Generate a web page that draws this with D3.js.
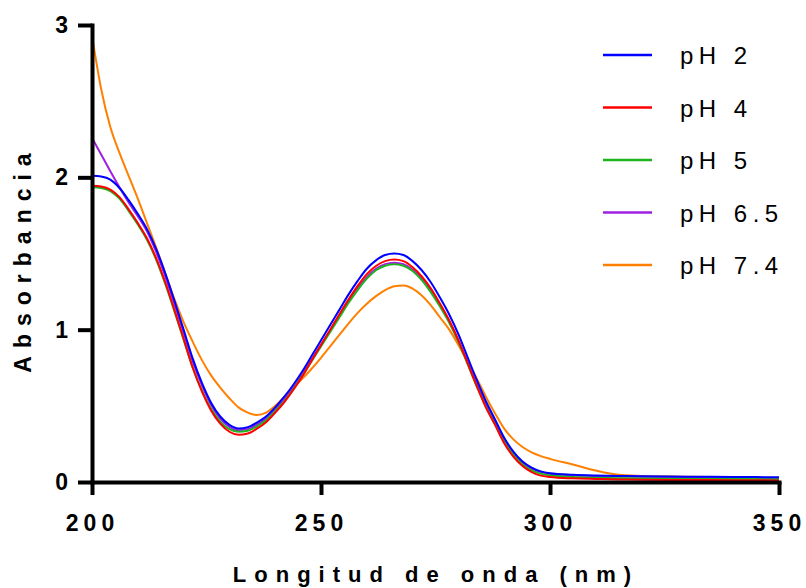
<!DOCTYPE html>
<html>
<head>
<meta charset="utf-8">
<script src="https://cdn.jsdelivr.net/npm/d3@7"></script>
<style>
  body { margin: 0; background: #fff; }
  svg { font-family: "Liberation Sans", Arial, sans-serif; }
</style>
</head>
<body>
<div id="chart"></div>
<script>
// wavelengths (nm): every 2 nm up to 300, then coarser
const wavelengths = [200, 202, 204, 206, 208, 210, 212, 214, 216, 218, 220, 222, 224, 226, 228, 230, 232, 234, 236, 238, 240, 242, 244, 246, 248, 250, 252, 254, 256, 258, 260, 262, 264, 266, 268, 270, 272, 274, 276, 278, 280, 282, 284, 286, 288, 290, 292, 294, 296, 298, 300, 305, 310, 315, 320, 330, 340, 350];

// absorbance per pH
const pH2 = [2.01, 2.005, 1.985, 1.93, 1.85, 1.76, 1.66, 1.53, 1.37, 1.19, 1.0, 0.81, 0.65, 0.52, 0.43, 0.375, 0.352, 0.36, 0.39, 0.43, 0.49, 0.56, 0.64, 0.73, 0.83, 0.93, 1.03, 1.13, 1.23, 1.32, 1.4, 1.455, 1.49, 1.5, 1.49, 1.45, 1.39, 1.31, 1.21, 1.1, 0.97, 0.82, 0.67, 0.53, 0.41, 0.29, 0.2, 0.135, 0.095, 0.07, 0.058, 0.048, 0.043, 0.04, 0.038, 0.035, 0.033, 0.031];
const pH4 = [1.945, 1.94, 1.92, 1.87, 1.79, 1.7, 1.6, 1.47, 1.31, 1.13, 0.94, 0.75, 0.595, 0.47, 0.383, 0.33, 0.31, 0.318, 0.35, 0.393, 0.455, 0.525, 0.607, 0.698, 0.8, 0.9, 1.0, 1.1, 1.197, 1.287, 1.365, 1.418, 1.45, 1.46, 1.45, 1.41, 1.35, 1.27, 1.17, 1.06, 0.93, 0.78, 0.63, 0.49, 0.375, 0.255, 0.167, 0.105, 0.065, 0.042, 0.033, 0.024, 0.02, 0.017, 0.015, 0.013, 0.012, 0.01];
const pH5 = [1.935, 1.93, 1.91, 1.86, 1.78, 1.69, 1.59, 1.46, 1.3, 1.12, 0.935, 0.75, 0.6, 0.48, 0.395, 0.347, 0.33, 0.337, 0.365, 0.405, 0.465, 0.53, 0.61, 0.7, 0.795, 0.89, 0.985, 1.08, 1.175, 1.26, 1.335, 1.39, 1.42, 1.43, 1.42, 1.385, 1.325, 1.245, 1.15, 1.045, 0.92, 0.775, 0.63, 0.495, 0.38, 0.265, 0.178, 0.115, 0.077, 0.055, 0.044, 0.033, 0.028, 0.025, 0.023, 0.021, 0.02, 0.018];
const pH65 = [2.26, 2.15, 2.04, 1.935, 1.835, 1.745, 1.645, 1.51, 1.35, 1.17, 0.98, 0.79, 0.635, 0.505, 0.415, 0.362, 0.34, 0.347, 0.376, 0.416, 0.475, 0.54, 0.62, 0.71, 0.805, 0.9, 0.995, 1.09, 1.185, 1.27, 1.345, 1.4, 1.43, 1.44, 1.43, 1.395, 1.335, 1.255, 1.16, 1.055, 0.93, 0.785, 0.64, 0.505, 0.39, 0.275, 0.188, 0.125, 0.088, 0.065, 0.054, 0.044, 0.039, 0.036, 0.034, 0.031, 0.029, 0.027];
const pH74 = [2.93, 2.58, 2.33, 2.16, 2.01, 1.86, 1.7, 1.54, 1.37, 1.2, 1.05, 0.92, 0.8, 0.7, 0.62, 0.55, 0.49, 0.455, 0.44, 0.455, 0.5, 0.56, 0.62, 0.68, 0.745, 0.815, 0.89, 0.965, 1.04, 1.11, 1.17, 1.22, 1.26, 1.285, 1.29, 1.27, 1.225, 1.16, 1.08, 1.0, 0.9, 0.79, 0.68, 0.56, 0.45, 0.35, 0.28, 0.23, 0.195, 0.17, 0.152, 0.115, 0.075, 0.047, 0.04, 0.035, 0.03, 0.025];

const seriesNames = ["pH 2", "pH 4", "pH 5", "pH 6.5", "pH 7.4"];
const seriesColors = ["#0000ff", "#ff0000", "#1db41d", "#a020e0", "#ff8000"];
const seriesValues = [pH2, pH4, pH5, pH65, pH74];

const xTicks = [200, 250, 300, 350];
const yTicks = [0, 1, 2, 3];

let svg = d3
  .select("#chart")
  .append("svg")
  .attr("width", 806)
  .attr("height", 588);

// scales
let xScale = d3.scaleLinear().domain([200, 350]).range([92, 779]),
  yScale = d3.scaleLinear().domain([0, 3]).range([482, 25]);

let line = d3
  .line()
  .curve(d3.curveMonotoneX)
  .x(function (d) {
    return xScale(d[0]);
  })
  .y(function (d) {
    return yScale(d[1]);
  });

// curves, drawn so blue ends on top
let drawOrder = [4, 3, 2, 1, 0];
drawOrder.forEach(function (i) {
  let pts = wavelengths.map(function (w, j) {
    return [w, seriesValues[i][j]];
  });
  svg
    .append("path")
    .datum(pts)
    .attr("fill", "none")
    .attr("stroke", seriesColors[i])
    .attr("stroke-width", 2)
    .attr("d", line);
});

// x axis
let xAxis = svg
  .append("g")
  .attr("transform", "translate(0," + yScale(0) + ")")
  .call(
    d3.axisBottom(xScale).tickValues(xTicks).tickSize(13).tickSizeOuter(0).tickPadding(20)
  );

// y axis
let yAxis = svg
  .append("g")
  .attr("transform", "translate(" + xScale(200) + ",0)")
  .call(
    d3
      .axisLeft(yScale)
      .tickValues(yTicks)
      .tickFormat(d3.format("d"))
      .tickSize(14)
      .tickSizeOuter(0)
      .tickPadding(10)
  );

[xAxis, yAxis].forEach(function (ax) {
  ax.select(".domain").attr("stroke", "#000").attr("stroke-width", 4).attr("stroke-linecap", "square");
  ax.selectAll(".tick line").attr("stroke", "#000").attr("stroke-width", 4);
  ax.selectAll(".tick text")
    .attr("fill", "#000")
    .style("font-size", "23px")
    .style("font-weight", "bold");
});
xAxis.selectAll(".tick text").style("letter-spacing", "5px");

// axis titles
svg
  .append("text")
  .attr("x", 436)
  .attr("y", 582)
  .attr("text-anchor", "middle")
  .style("font-size", "22px")
  .style("font-weight", "bold")
  .style("letter-spacing", "8px")
  .text("Longitud de onda (nm)");

svg
  .append("text")
  .attr("transform", "translate(31,259) rotate(-90)")
  .attr("text-anchor", "middle")
  .style("font-size", "23px")
  .style("font-weight", "bold")
  .style("letter-spacing", "8px")
  .text("Absorbancia");

// legend
let legend = svg
  .append("g")
  .selectAll("g")
  .data(seriesNames)
  .enter()
  .append("g")
  .attr("transform", function (d, i) {
    return "translate(603," + (55 + i * 52.5) + ")";
  });

legend
  .append("line")
  .attr("x1", 0)
  .attr("x2", 49)
  .attr("stroke", function (d, i) {
    return seriesColors[i];
  })
  .attr("stroke-width", 2.5);

legend
  .append("text")
  .attr("x", 77)
  .attr("y", 9)
  .style("font-size", "24px")
  .style("letter-spacing", "5.5px")
  .text(function (d) {
    return d;
  });
</script>
</body>
</html>
